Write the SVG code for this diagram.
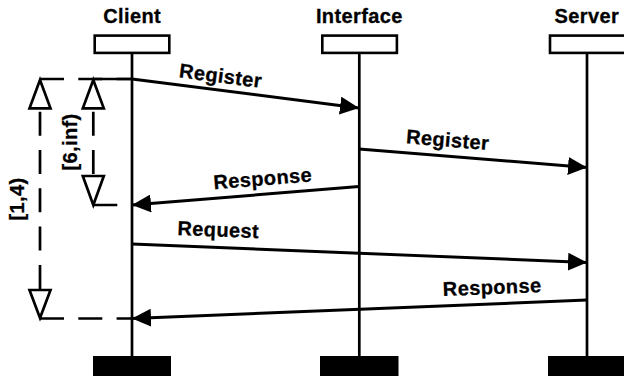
<svg xmlns="http://www.w3.org/2000/svg" width="624" height="376" viewBox="0 0 624 376">
<style>
text{font-family:"Liberation Sans",Arial,sans-serif;font-weight:bold;font-size:20px;letter-spacing:0.4px;fill:#000;stroke:#000;stroke-width:0.3}
.hdr{text-anchor:middle}
.lbl{text-anchor:middle}
.box{fill:#fff;stroke:#000;stroke-width:2.6}
.end{fill:#000;stroke:none}
.life{stroke:#000;stroke-width:2.7;fill:none}
.msg{stroke:#000;stroke-width:3;fill:none;marker-end:url(#ah)}
.dash{stroke:#000;stroke-width:2.7;fill:none;stroke-dasharray:24 14.3}
.solid{stroke:#000;stroke-width:2.7;fill:none}
.tri{fill:#fff;stroke:#000;stroke-width:2.7;stroke-linejoin:miter}
</style>
<defs>
<marker id="ah" markerUnits="userSpaceOnUse" markerWidth="19" markerHeight="18" viewBox="0 0 19 18" refX="19" refY="9" orient="auto">
<path d="M0,0 L19,9 L0,18 z" fill="#000"/>
</marker>
</defs>

<g id="client">
<text class="hdr" x="132.2" y="23.3">Client</text>
<rect class="box" x="94.7" y="35.6" width="74.6" height="17.3"/>
<line class="life" x1="132" y1="53" x2="132" y2="358"/>
<rect class="end" x="93" y="356" width="78" height="22"/>
</g>

<g id="interface">
<text class="hdr" x="359.4" y="23.3">Interface</text>
<rect class="box" x="322.3" y="35.6" width="74.6" height="17.3"/>
<line class="life" x1="359.3" y1="53" x2="359.3" y2="358"/>
<rect class="end" x="320" y="356" width="78.5" height="22"/>
</g>

<g id="server">
<text class="hdr" x="586.9" y="23.3">Server</text>
<rect class="box" x="550" y="35.6" width="76" height="17.3"/>
<line class="life" x1="587" y1="53" x2="587" y2="358"/>
<rect class="end" x="548" y="356" width="80" height="22"/>
</g>

<g id="connectors">
<line class="msg" x1="132" y1="79" x2="359" y2="108"/>
<line class="msg" x1="359" y1="149" x2="587" y2="167.5"/>
<line class="msg" x1="359" y1="186.5" x2="132" y2="205"/>
<line class="msg" x1="132" y1="244" x2="587" y2="262.5"/>
<line class="msg" x1="587" y1="300" x2="132" y2="318.5"/>
</g>

<g id="labels">
<text class="lbl" transform="translate(219.8 82.6) rotate(7.28)">Register</text>
<text class="lbl" transform="translate(447.2 146.7) rotate(4.7)">Register</text>
<text class="lbl" transform="translate(263.2 185.3) rotate(-4.6)">Response</text>
<text class="lbl" transform="translate(218 236.6) rotate(2.3)">Request</text>
<text class="lbl" transform="translate(492.4 294) rotate(-2.33)">Response</text>
</g>

<g id="constraint-outer">
<line class="dash" x1="40" y1="79" x2="132" y2="79"/>
<line class="dash" x1="40" y1="318.5" x2="132" y2="318.5"/>
<line class="dash" x1="40" y1="111.7" x2="40" y2="290"/>
<path class="tri" d="M40,80 L50.5,108.3 L29.5,108.3 Z"/>
<path class="tri" d="M40,318 L50.5,290 L29.5,290 Z"/>
<text transform="translate(24 199) rotate(-90)" text-anchor="middle">[1,4)</text>
</g>

<g id="constraint-inner">
<line class="solid" x1="93.3" y1="79" x2="132" y2="79"/>
<line class="dash" x1="93.3" y1="205" x2="132" y2="205"/>
<line class="dash" x1="93.3" y1="111.7" x2="93.3" y2="177"/>
<path class="tri" d="M93.3,80 L103.8,108.3 L82.8,108.3 Z"/>
<path class="tri" d="M93.3,205 L103.8,176 L82.8,176 Z"/>
<text transform="translate(76.5 142) rotate(-90)" text-anchor="middle">[6,inf)</text>
</g>
</svg>
